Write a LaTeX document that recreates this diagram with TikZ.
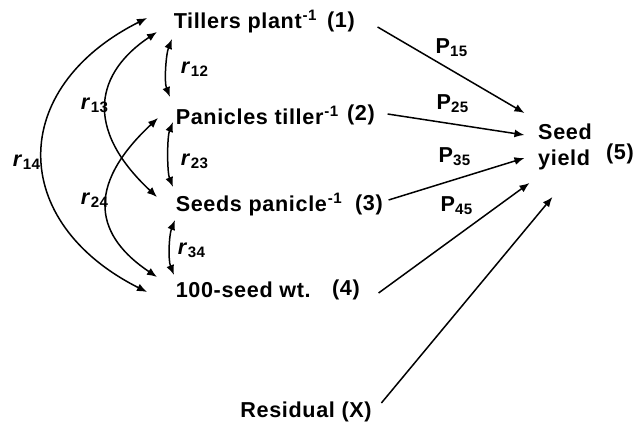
\documentclass[tikz,border=0pt]{standalone}
\usepackage{fontspec}
\setmainfont{Liberation Sans}[LetterSpace=3]
\usetikzlibrary{arrows.meta}

\begin{document}
\begin{tikzpicture}[x=0.5pt, y=-0.5pt, line width=0.75pt,
    every node/.style={font=\bfseries\fontsize{10.8}{13}\selectfont, inner sep=0pt},
    trait/.style={anchor=west},
    corr/.style={{Latex[length=5pt,width=4pt]}-{Latex[length=5pt,width=4pt]}},
    effect/.style={-{Latex[length=5pt,width=4pt]}}]
    \useasboundingbox (0,0) rectangle (644,426);

    \node[trait] (n1) at (173,22) {Tillers plant\kern0.5pt\textsuperscript{-1}};
    \node (c1) at (341,22) {(1)};
    \node[trait] (n2) at (175,115) {Panicles tiller\kern0.5pt\textsuperscript{-1}};
    \node (c2) at (361,115) {(2)};
    \node[trait] (n3) at (175,205) {Seeds panicle\kern0.5pt\textsuperscript{-1}};
    \node (c3) at (369,205) {(3)};
    \node[trait] (n4) at (175,290) {100-seed wt.};
    \node (c4) at (346,290) {(4)};
    \node[align=left] (yield) at (565,147) {Seed\\yield};
    \node (c5) at (620,154) {(5)};
    \node (res) at (306,412) {Residual (X)};

    % correlations
    \draw[corr] ([shift={(-1,17)}]n1.west) .. controls +(-6,15) and +(-6,-15) .. ([shift={(-5,-18)}]n2.west);
    \draw[corr] ([shift={(-2,7)}]n2.west) .. controls +(-6,15) and +(-6,-15) .. ([shift={(-2,-18)}]n3.west);
    \draw[corr] ([shift={(0,15)}]n3.west) .. controls +(-6,15) and +(-6,-15) .. ([shift={(-1,-15)}]n4.west);
    \draw[corr] ([shift={(-16,10)}]n1.west) .. controls +(-60,40) and +(-75,-70) .. ([shift={(-18,-8)}]n3.west);
    \draw[corr] ([shift={(-17,3)}]n2.west) .. controls +(-75,70) and +(-60,-40) .. ([shift={(-18,-13)}]n4.west);
    \draw[corr] ([shift={(-26,-4)}]n1.west) .. controls +(-139,70) and +(-139,-70) .. ([shift={(-28,2)}]n4.west);

    \node (r12) at (195,69) {\textit{r}\textsubscript{12}};
    \node (r23) at (195,161) {\textit{r}\textsubscript{23}};
    \node (r34) at (192,250) {\textit{r}\textsubscript{34}};
    \node (r13) at (95,105) {\textit{r}\textsubscript{13}};
    \node (r24) at (95,200) {\textit{r}\textsubscript{24}};
    \node (r14) at (27,162) {\textit{r}\textsubscript{14}};

    % path coefficients
    \draw[effect] ([shift={(22,5)}]c1.east) -- ([shift={(-13,-34)}]yield.west);
    \draw[effect] ([shift={(12,-1)}]c2.east) -- ([shift={(-13,-12)}]yield.west);
    \draw[effect] ([shift={(5,-5)}]c3.east) -- ([shift={(-13,11)}]yield.west);
    \draw[effect] ([shift={(18,3)}]c4.east) -- ([shift={(-8,36)}]yield.west);
    \draw[effect] ([shift={(9,-9)}]res.east) -- ([shift={(15,50)}]yield.west);

    \node (p15) at (452,48) {P\textsubscript{15}};
    \node (p25) at (453,104) {P\textsubscript{25}};
    \node (p35) at (455,157) {P\textsubscript{35}};
    \node (p45) at (457,206) {P\textsubscript{45}};
\end{tikzpicture}
\end{document}
